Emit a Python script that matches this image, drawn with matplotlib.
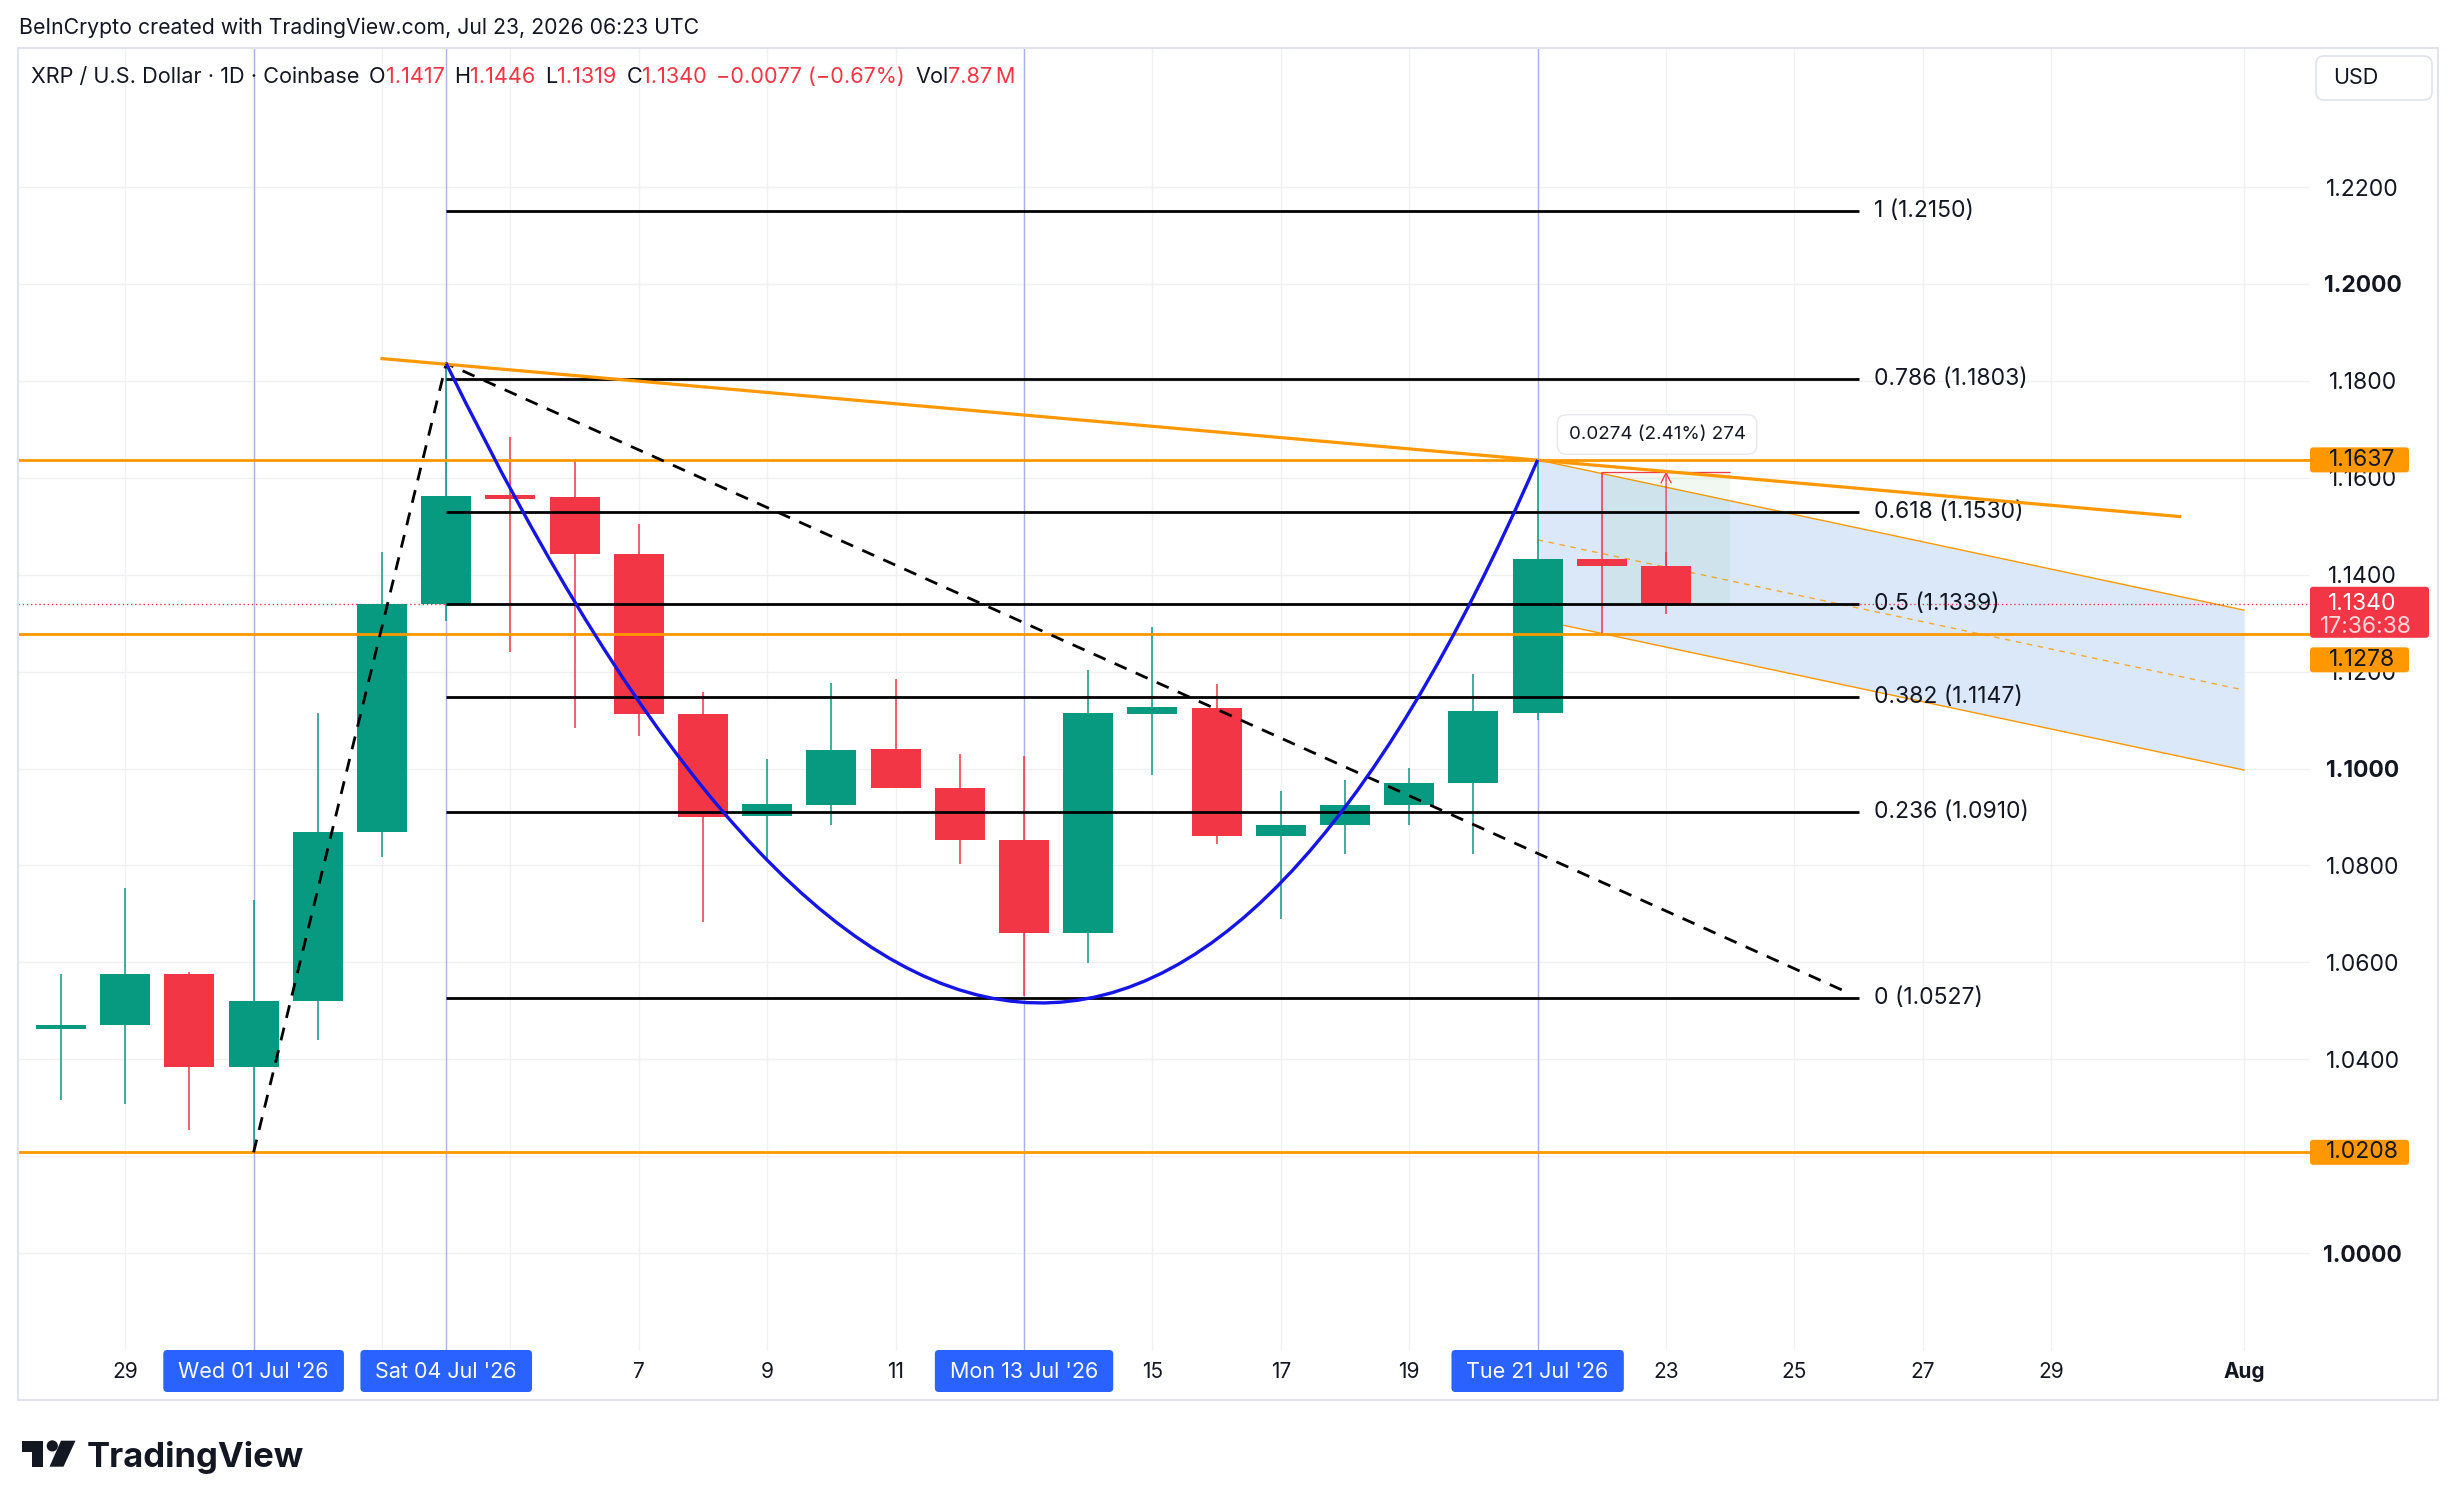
import numpy as np
import pandas as pd
import matplotlib
matplotlib.use('Agg')
import matplotlib.pyplot as plt
import matplotlib.dates as mdates
from matplotlib.patches import FancyBboxPatch, Polygon, Rectangle, PathPatch, Circle
from matplotlib.path import Path

plt.rcParams['font.family'] = ['Inter', 'DejaVu Sans']

# --- daily XRP / USD candles (Coinbase) ---
dates = pd.date_range('2026-06-28', '2026-07-23', freq='D')
opens = [1.0462, 1.0470, 1.0576, 1.0385, 1.0521, 1.0870, 1.1339, 1.1565, 1.1561, 1.1442,
         1.1112, 1.0902, 1.0925, 1.1040, 1.0960, 1.0853, 1.0660, 1.1112, 1.1125, 1.0860,
         1.0883, 1.0925, 1.0970, 1.1115, 1.1432, 1.1417]
highs = [1.0575, 1.0753, 1.0580, 1.0729, 1.1114, 1.1446, 1.1837, 1.1685, 1.1635, 1.1505,
         1.1158, 1.1019, 1.1176, 1.1185, 1.1031, 1.1025, 1.1203, 1.1293, 1.1174, 1.0954,
         1.0976, 1.1002, 1.1196, 1.1637, 1.1613, 1.1446]
lows = [1.0317, 1.0308, 1.0255, 1.0214, 1.0439, 1.0818, 1.1304, 1.1240, 1.1084, 1.1067,
        1.0684, 1.0812, 1.0883, 1.0960, 1.0804, 1.0530, 1.0599, 1.0986, 1.0844, 1.0689,
        1.0824, 1.0883, 1.0824, 1.1100, 1.1278, 1.1319]
closes = [1.0470, 1.0576, 1.0385, 1.0521, 1.0870, 1.1339, 1.1563, 1.1557, 1.1442, 1.1112,
          1.0900, 1.0927, 1.1039, 1.0960, 1.0853, 1.0660, 1.1114, 1.1128, 1.0860, 1.0883,
          1.0925, 1.0970, 1.1119, 1.1432, 1.1417, 1.1340]
last_price = 1.1340
countdown = '17:36:38'

# fibonacci extension levels
fib_levels = [1, 0.786, 0.618, 0.5, 0.382, 0.236, 0]
fib_prices = [1.2150, 1.1803, 1.1530, 1.1339, 1.1147, 1.0910, 1.0527]
fib_span = ['2026-07-04', '2026-07-26']
fib_path_dates = ['2026-07-01T00:00', '2026-07-04T00:00', '2026-07-25T19:00']
fib_path_prices = [1.0208, 1.1836, 1.0540]

# horizontal support / resistance
hlines = [1.1637, 1.1278, 1.0208]

# descending trendline
trend_dates = ['2026-07-03', '2026-07-31']
trend_prices = [1.1846, 1.1520]

# cup curve (start, control, end)
arc_dates = ['2026-07-04T00:00', '2026-07-13T08:00', '2026-07-21T00:00']
arc_prices = [1.1836, 0.9300, 1.1637]

# parallel channel
chan_dates = ['2026-07-21', '2026-08-01']
chan_upper = [1.1637, 1.1327]
chan_lower = [1.1307, 1.0997]

# price range measurement
measure_dates = ['2026-07-22', '2026-07-24']
measure_arrow_date = '2026-07-23'
measure_low, measure_high = 1.1339, 1.1613
measure_text = '0.0274 (2.41%) 274'

# highlighted dates
marker_dates = ['2026-07-01', '2026-07-04', '2026-07-13', '2026-07-21']
marker_labels = ["Wed 01 Jul '26", "Sat 04 Jul '26", "Mon 13 Jul '26", "Tue 21 Jul '26"]

tick_dates = ['2026-06-29', '2026-07-01', '2026-07-03', '2026-07-05', '2026-07-07', '2026-07-09',
              '2026-07-11', '2026-07-13', '2026-07-15', '2026-07-17', '2026-07-19', '2026-07-21',
              '2026-07-23', '2026-07-25', '2026-07-27', '2026-07-29', '2026-08-01']
tick_labels = ['29', '', '', '', '7', '9', '11', '', '15', '17', '19', '', '23', '25', '27', '29', 'Aug']
price_ticks = [1.00, 1.02, 1.04, 1.06, 1.08, 1.10, 1.12, 1.14, 1.16, 1.18, 1.20, 1.22]
hidden_ticks = [1.02]   # fully covered by the 1.0208 label

GREEN = '#089981'
RED = '#f23645'
ORANGE = '#ff9800'
BLUE = '#1515e6'
TXT = '#131722'


def d2n(s):
    return mdates.date2num(pd.to_datetime(s, format='ISO8601'))


W, H = 2456, 1509
fig = plt.figure(figsize=(W / 100, H / 100), dpi=100, facecolor='white')
ax = fig.add_axes([18 / W, 1 - 1351 / H, (2310 - 18) / W, (1351 - 48) / H])
x0 = d2n('2026-06-29')
ax.set_xlim(x0 - 1.67, x0 + 34.03)
ax.set_ylim(0.9798, 1.2487)
for s in ax.spines.values():
    s.set_visible(False)

# grid + ticks
ax.set_xticks(d2n(tick_dates))
ax.set_xticklabels(tick_labels)
ax.set_yticks(price_ticks)
ax.set_yticklabels(['' if p in hidden_ticks else f'{p:.4f}' for p in price_ticks])
ax.yaxis.tick_right()
ax.tick_params(axis='y', length=0, pad=38, labelsize=16.5, labelcolor=TXT)
ax.tick_params(axis='x', length=0, pad=8, labelsize=15, labelcolor=TXT)
for lab, p in zip(ax.get_yticklabels(), price_ticks):
    lab.set_ha('center')
    if abs(p * 10 - round(p * 10)) < 1e-6:
        lab.set_fontweight('bold')
ax.get_xticklabels()[-1].set_fontweight('bold')
ax.grid(color='#f0f1f4', lw=1, zorder=0)
ax.set_axisbelow(True)

# highlighted date verticals
for d in marker_dates:
    ax.axvline(d2n(d), color='#aab2e2', lw=1, zorder=1)

# channel
cx = d2n(chan_dates)
ax.fill_between(cx, chan_lower, chan_upper, color='#dbe8fa', lw=0, zorder=1)
ax.plot(cx, chan_upper, color=ORANGE, lw=1, zorder=2)
ax.plot(cx, chan_lower, color=ORANGE, lw=1, zorder=2)
ax.plot(cx, (np.array(chan_upper) + np.array(chan_lower)) / 2, color=ORANGE, lw=1,
        dashes=(4, 4), alpha=0.8, zorder=2)

# measurement box
mx = d2n(measure_dates)
ax.fill_between(mx, measure_low, measure_high, color='#4caf50', alpha=0.08, lw=0, zorder=2)

# candles
x = d2n(dates)
o, h, l, c = map(np.array, (opens, highs, lows, closes))
cols = np.where(c >= o, GREEN, RED)
ax.vlines(x, l, h, colors=cols, lw=1.1, zorder=3)
body = np.maximum(np.abs(c - o), 0.0006)
ax.bar(x, body, bottom=np.minimum(o, c), width=0.78, color=cols, zorder=4)

# measurement lines
ax.hlines([measure_low, measure_high], mx[0], mx[1], colors=RED, lw=0.9, zorder=5)
xa = d2n(measure_arrow_date)
ax.annotate('', xy=(xa, measure_high), xytext=(xa, measure_low),
            arrowprops=dict(arrowstyle='->', color=RED, lw=0.9, shrinkA=0, shrinkB=0,
                            mutation_scale=18), zorder=5)

# current price line
ax.axhline(last_price, color=RED, lw=1, ls=(0, (1, 2)), zorder=2)

# fib levels
fx = d2n(fib_span)
ax.hlines(fib_prices, fx[0], fx[1], colors='black', lw=2, zorder=5)
for lvl, p in zip(fib_levels, fib_prices):
    ax.annotate(f'{lvl:g} ({p:.4f})', xy=(fx[1], p), xytext=(11, 0), textcoords='offset points',
                va='center', ha='left', fontsize=16.5, color=TXT, zorder=6)
ax.plot(d2n(fib_path_dates), fib_path_prices, color='black', lw=2, dashes=(4.7, 3.6), zorder=6)

# orange levels and trendline
for p in hlines:
    ax.axhline(p, color=ORANGE, lw=2, zorder=5)
ax.plot(d2n(trend_dates), trend_prices, color=ORANGE, lw=2.3, zorder=6)

# cup curve
ad = d2n(arc_dates)
arc = Path(list(zip(ad, arc_prices)), [Path.MOVETO, Path.CURVE3, Path.CURVE3])
ax.add_patch(PathPatch(arc, fill=False, ec=BLUE, lw=2.4, zorder=7))

# measurement label
ax.annotate(measure_text, xy=(xa, measure_high), xytext=(-9, 37),
            textcoords='offset pixels', ha='center', va='center', fontsize=13.5, color=TXT,
            bbox=dict(boxstyle='round,pad=0.6,rounding_size=0.5', fc='white', ec='#e6e8ee', lw=1),
            zorder=8)

# overlay in pixel coordinates for the chrome
ov = fig.add_axes([0, 0, 1, 1], zorder=5)
ov.set_xlim(0, W)
ov.set_ylim(H, 0)
ov.axis('off')
renderer = fig.canvas.get_renderer()

ov.add_patch(Rectangle((18, 48), 2420, 1352, fill=False, ec='#e0e3eb', lw=1.5))
ov.text(19, 28, 'BeInCrypto created with TradingView.com, Jul 23, 2026 06:23 UTC',
        va='center', ha='left', fontsize=15.3, color=TXT)

# legend line
pieces = [('O', TXT, 7), ('1.1417', RED, 0), ('H', TXT, 7), ('1.1446', RED, 0),
          ('L', TXT, 7), ('1.1319', RED, 0), ('C', TXT, 7), ('1.1340', RED, 0),
          ('\u22120.0077 (\u22120.67%)', RED, 7), ('Vol', TXT, 7), ('7.87\u2009M', RED, 0)]
prev = ov.text(31, 77, 'XRP / U.S. Dollar \u00b7 1D \u00b7 Coinbase', va='center', ha='left',
               fontsize=15.6, color=TXT)
for s, col, gap in pieces:
    prev = ov.annotate(s, xy=(1, 0.5), xycoords=prev, xytext=(gap, 0), textcoords='offset points',
                       va='center', ha='left', fontsize=15.6, color=col)

# USD button
ov.add_patch(FancyBboxPatch((2316, 56), 116, 44, boxstyle='round,pad=0,rounding_size=8',
                            fc='white', ec='#e0e3eb', lw=1.2))
ov.text(2333, 78, 'USD', va='center', ha='left', fontsize=15.5, color=TXT)


def xpix(d):
    return ax.transData.transform((d2n(d), 0))[0]


def ypix(p):
    return H - ax.transData.transform((0, p))[1]


# highlighted date labels on the time axis
for d, lab in zip(marker_dates, marker_labels):
    xc = xpix(d)
    t = ov.text(xc, 1372, lab, ha='center', va='center', fontsize=15.5, color='white', zorder=3)
    tw = t.get_window_extent(renderer).width
    ov.add_patch(FancyBboxPatch((xc - tw / 2 - 15, 1350), tw + 30, 42,
                                boxstyle='round,pad=0,rounding_size=4', fc='#2962ff', ec='none',
                                zorder=2))

# price axis labels
for p, shift in zip(hlines, [0, 26, 0]):
    yy = ypix(p) + shift
    ov.add_patch(FancyBboxPatch((2310, yy - 12.5), 99, 25, boxstyle='round,pad=0,rounding_size=3',
                                fc=ORANGE, ec='none'))
    ov.text(2362, yy, f'{p:.4f}', va='center', ha='center', fontsize=16.5, color=TXT)
yy = ypix(last_price)
ov.add_patch(FancyBboxPatch((2310, yy - 17), 119, 51, boxstyle='round,pad=0,rounding_size=3',
                            fc=RED, ec='none'))
ov.text(2362, yy, f'{last_price:.4f}', va='center', ha='center', fontsize=16.5, color='white')
ov.text(2366, yy + 23, countdown, va='center', ha='center', fontsize=16.5, color='#ffd6da')

# TradingView logo
ov.add_patch(Polygon([(21.7, 1440.7), (43.3, 1440.7), (43.3, 1466.7), (31.7, 1466.7),
                      (31.7, 1451.7), (21.7, 1451.7)], closed=True, fc='#131722', ec='none'))
ov.add_patch(Circle((52.3, 1445.9), 5.6, fc='#131722', ec='none'))
ov.add_patch(Polygon([(61, 1440.7), (75.5, 1440.7), (63.5, 1466.7), (49.5, 1466.7)],
                     closed=True, fc='#131722', ec='none'))
ov.text(87, 1466.7, 'TradingView', va='baseline', ha='left', fontsize=25, fontweight='bold',
        color='#131722')

fig.savefig('out.png', dpi=100, facecolor='white')
